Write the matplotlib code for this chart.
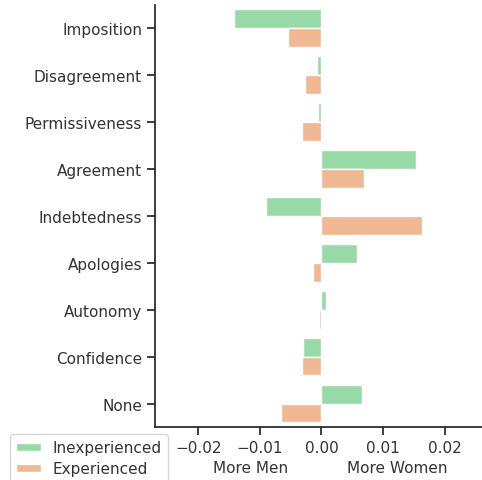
import matplotlib
matplotlib.use("Agg")
import matplotlib.pyplot as plt
import seaborn as sns
import pandas as pd

# values
categories = ["Imposition", "Disagreement", "Permissiveness", "Agreement",
              "Indebtedness", "Apologies", "Autonomy", "Confidence", "None"]
inexperienced = [-0.0142, -0.0008, -0.0005, 0.0154, -0.0090, 0.0057, 0.0007, -0.0030, 0.0065]
experienced = [-0.0054, -0.0027, -0.0031, 0.0069, 0.0163, -0.0013, -0.0004, -0.0031, -0.0066]
groups = ["Inexperienced", "Experienced"]

df = pd.DataFrame({
    "category": categories * 2,
    "diff": inexperienced + experienced,
    "group": [groups[0]] * len(categories) + [groups[1]] * len(categories),
})

sns.set_theme(style="ticks", palette="pastel")
plt.rcParams["font.family"] = ["DejaVu Sans"]
pal = sns.color_palette("pastel")
fig = plt.figure(figsize=(4.82, 4.81), dpi=100)
ax = fig.add_axes([0.322, 0.110, 0.69, 0.878])

sns.barplot(data=df, y="category", x="diff", hue="group", orient="h",
            palette=[pal[2], pal[1]], saturation=0.75, ax=ax)

ax.set_xlim(-0.027, 0.027)
ax.set_ylabel("")
ax.set_xlabel("")
ax.set_xticks([-0.02, -0.01, 0.0, 0.01, 0.02])
ax.set_xticklabels(["\u22120.02", "\u22120.01", "0.00", "0.01", "0.02"])
ax.tick_params(labelsize=11, labelcolor="#333333")
sns.despine(ax=ax)

ax.annotate("More Men", xy=(-0.0115, 0), xycoords=("data", "axes fraction"),
            xytext=(0, -24), textcoords="offset points", ha="center", va="top",
            fontsize=11, color="#333333")
ax.annotate("More Women", xy=(0.0123, 0), xycoords=("data", "axes fraction"),
            xytext=(0, -24), textcoords="offset points", ha="center", va="top",
            fontsize=11, color="#333333")

leg = ax.legend(loc="upper left", bbox_to_anchor=(-0.436, -0.017), fontsize=11, frameon=True,
                borderaxespad=0, handlelength=1.6, handleheight=0.45, labelspacing=0.4)
for t in leg.get_texts():
    t.set_color("#333333")

fig.savefig("out.png", dpi=100)
